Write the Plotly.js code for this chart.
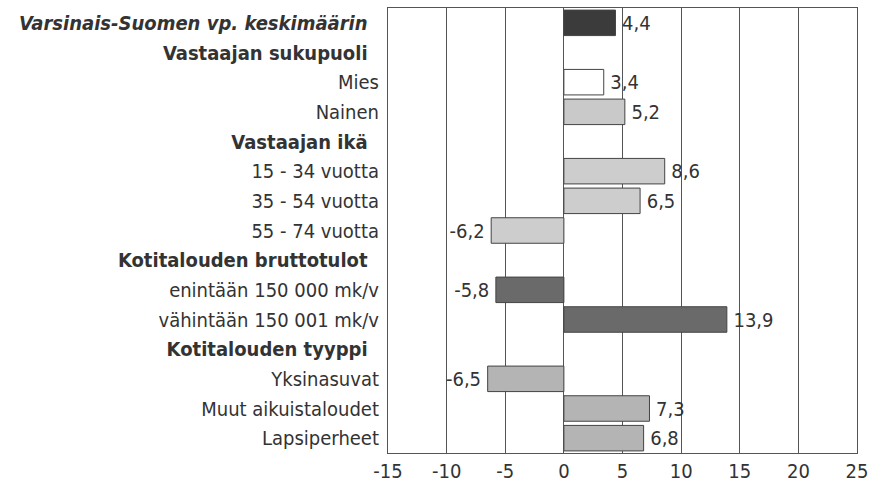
<!DOCTYPE html>
<html>
<head>
<meta charset="utf-8">
<script src="https://cdn.plot.ly/plotly-3.0.1.min.js"></script>
<style>
  html, body { margin: 0; padding: 0; background: #fff; }
  #chart { width: 869px; height: 484px; }
</style>
</head>
<body>
<div id="chart"></div>
<script>
// rows top to bottom; headers have no value
const categories = [
    'Varsinais-Suomen vp. keskimäärin',
    'Vastaajan sukupuoli',
    'Mies',
    'Nainen',
    'Vastaajan ikä',
    '15 - 34 vuotta',
    '35 - 54 vuotta',
    '55 - 74 vuotta',
    'Kotitalouden bruttotulot',
    'enintään 150 000 mk/v',
    'vähintään 150 001 mk/v',
    'Kotitalouden tyyppi',
    'Yksinasuvat',
    'Muut aikuistaloudet',
    'Lapsiperheet'
];
const values = [4.4, null, 3.4, 5.2, null, 8.6, 6.5, -6.2, null, -5.8, 13.9, null, -6.5, 7.3, 6.8];
const rowKind = ['total', 'head', 'item', 'item', 'head', 'item', 'item', 'item', 'head', 'item', 'item', 'head', 'item', 'item', 'item'];
const barColors = ['#3b3b3b', null, '#ffffff', '#c9c9c9', null, '#cdcdcd', '#cdcdcd', '#cdcdcd', null, '#6a6a6a', '#6a6a6a', null, '#b4b4b4', '#b4b4b4', '#b4b4b4'];
const xTicks = [-15, -10, -5, 0, 5, 10, 15, 20, 25];

const nb = '\u00a0\u00a0';
const tickText = categories.map((c, i) => {
    if (rowKind[i] === 'total') return '<b><i>' + c + '</i></b>' + nb;
    if (rowKind[i] === 'head') return '<b>' + c + '</b>' + nb;
    return c;
});
// small gap between bar end and its label
const labels = values.map(v => {
    if (v === null) return '';
    const s = v.toFixed(1).replace('.', ',');
    return v < 0 ? s + '\u2009' : '\u2009' + s;
});

const font = '"DejaVu Sans Condensed", "Liberation Sans Narrow", Arial, sans-serif';

Plotly.newPlot('chart', [{
    type: 'bar',
    orientation: 'h',
    y: categories,
    x: values,
    text: labels,
    textposition: 'outside',
    cliponaxis: false,
    textfont: { family: font, size: 20, color: '#333' },
    marker: {
        color: barColors.map(c => c || '#fff'),
        line: { color: '#444', width: 1 }
    },
    hoverinfo: 'none'
}], {
    width: 869,
    height: 484,
    margin: { l: 388, r: 12, t: 8, b: 31 },
    paper_bgcolor: '#fff',
    plot_bgcolor: '#fff',
    bargap: 0.14,
    showlegend: false,
    font: { family: font, size: 20, color: '#333' },
    xaxis: {
        range: [-15, 25],
        tickvals: xTicks,
        ticktext: xTicks.map(String),
        showgrid: true,
        gridcolor: '#555',
        gridwidth: 1,
        zeroline: false,
        showline: true,
        linecolor: '#555',
        linewidth: 1,
        mirror: true,
        ticks: '',
        tickfont: { family: font, size: 20, color: '#333' }
    },
    yaxis: {
        type: 'category',
        autorange: false,
        range: [14.5, -0.5],
        tickvals: categories,
        ticktext: tickText,
        showgrid: false,
        zeroline: false,
        showline: true,
        linecolor: '#555',
        linewidth: 1,
        mirror: true,
        ticks: '',
        ticklabelstandoff: 4,
        tickfont: { family: font, size: 20, color: '#333' }
    }
}, { displayModeBar: false, staticPlot: true });
</script>
</body>
</html>
